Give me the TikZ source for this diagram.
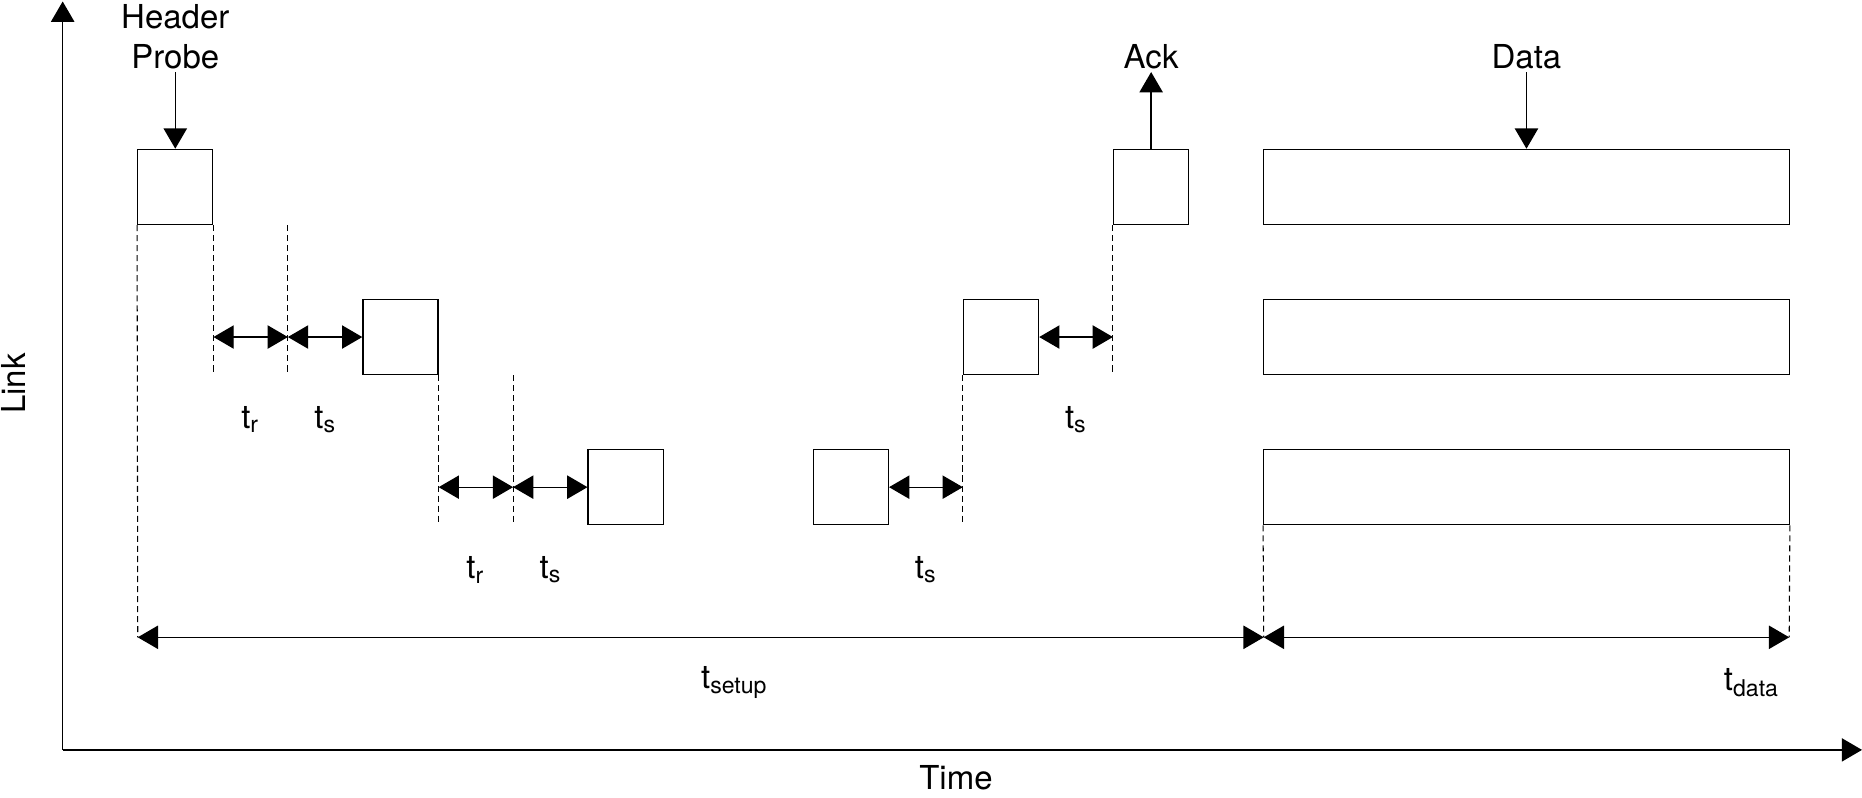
\documentclass[tikz,border=0pt]{standalone}
\usepackage{fontspec}
\setmainfont{TeX Gyre Heros}
\usetikzlibrary{arrows.meta,positioning}
\tikzstyle{pkt} = [draw, line width=0.5pt, minimum size=1cm, inner sep=0pt]
\tikzstyle{datapkt} = [pkt, minimum width=7cm]
\tikzstyle{guide} = [line width=0.4pt, dash pattern=on 2.3pt off 1.5pt]
\tikzstyle{arrow} = [line width=0.5pt, -{Triangle[length=0.27cm,width=0.31cm]}]
\tikzstyle{dimarrow} = [line width=0.5pt, {Triangle[length=0.27cm,width=0.31cm]}-{Triangle[length=0.27cm,width=0.31cm]}]
\tikzstyle{lbl} = [font=\fontsize{12.5}{15}\selectfont, inner sep=1pt]

\begin{document}
\begin{tikzpicture}
    \useasboundingbox (-1.835,-3.64) rectangle (22.97,6.99);

    % Axes
    \coordinate (orig) at (-1,-3);
    \coordinate (ytop) at (-1,6.97);
    \coordinate (xend) at (22.97,-3);
    \draw[arrow] (orig) -- (ytop);
    \draw[arrow] (orig) -- (xend);
    \node[lbl, rotate=90] (link) at (-1.65,1.88) {Link};
    \node[lbl] (time) at (10.9,-3.37) {Time};

    % Setup packets
    \node[pkt] (b1) at (0.5,4.5) {};
    \node[pkt] (b2) at (3.5,2.5) {};
    \node[pkt] (b3) at (6.5,0.5) {};
    \node[pkt] (b4) at (9.5,0.5) {};
    \node[pkt] (b5) at (11.5,2.5) {};
    \node[pkt] (b6) at (13.5,4.5) {};

    % Data packets
    \node[datapkt] (d1) at (18.5,4.5) {};
    \node[datapkt] (d2) at (18.5,2.5) {};
    \node[datapkt] (d3) at (18.5,0.5) {};

    % Labels on top
    \node[lbl, align=center, anchor=south] (hdr) at (0.5,6.03) {Header\\Probe};
    \node[lbl, anchor=south] (ack) at (13.5,6.03) {Ack};
    \node[lbl, anchor=south] (dlab) at (18.5,6.03) {Data};
    \draw[arrow] (hdr) -- (b1);
    \draw[arrow] (b6) -- (ack);
    \draw[arrow] (dlab) -- (d1);

    % Gaps
    \coordinate (g1) at (2,2.5);
    \coordinate (g2) at (5,0.5);
    \coordinate (s0) at (0,-1.5);
    \coordinate (s1) at (15,-1.5);
    \coordinate (s2) at (22,-1.5);

    % Dashed guides
    \draw[guide] (b1.south west) -- (s0);
    \draw[guide] (b1.south east) -- (b1.south east |- b2.south);
    \draw[guide] (g1 |- b1.south) -- (g1 |- b2.south);
    \draw[guide] (b2.south east) -- (b2.south east |- b3.south);
    \draw[guide] (g2 |- b2.south) -- (g2 |- b3.south);
    \draw[guide] (b5.south west) -- (b5.south west |- b4.south);
    \draw[guide] (b6.south west) -- (b6.south west |- b5.south);
    \draw[guide] (d3.south west) -- (s1);
    \draw[guide] (d3.south east) -- (s2);

    % Time spans
    \draw[dimarrow] (b1.east |- g1) -- (g1);
    \draw[dimarrow] (g1) -- (b2);
    \draw[dimarrow] (b2.east |- g2) -- (g2);
    \draw[dimarrow] (g2) -- (b3);
    \draw[dimarrow] (b4) -- (b5.west |- b4);
    \draw[dimarrow] (b5) -- (b6.west |- b5);
    \draw[dimarrow] (s0) -- (s1);
    \draw[dimarrow] (s1) -- (s2);

    \node[lbl] (tr1) at (1.5,1.4) {t\textsubscript{r}};
    \node[lbl] (ts1) at (2.5,1.4) {t\textsubscript{s}};
    \node[lbl] (tr2) at (4.5,-0.6) {t\textsubscript{r}};
    \node[lbl] (ts2) at (5.5,-0.6) {t\textsubscript{s}};
    \node[lbl] (ts3) at (10.5,-0.6) {t\textsubscript{s}};
    \node[lbl] (ts4) at (12.5,1.4) {t\textsubscript{s}};
    \node[lbl] (tsetup) at (7.95,-2.1) {t\textsubscript{setup}};
    \node[lbl] (tdata) at (21.5,-2.1) {t\textsubscript{data}};
\end{tikzpicture}
\end{document}
